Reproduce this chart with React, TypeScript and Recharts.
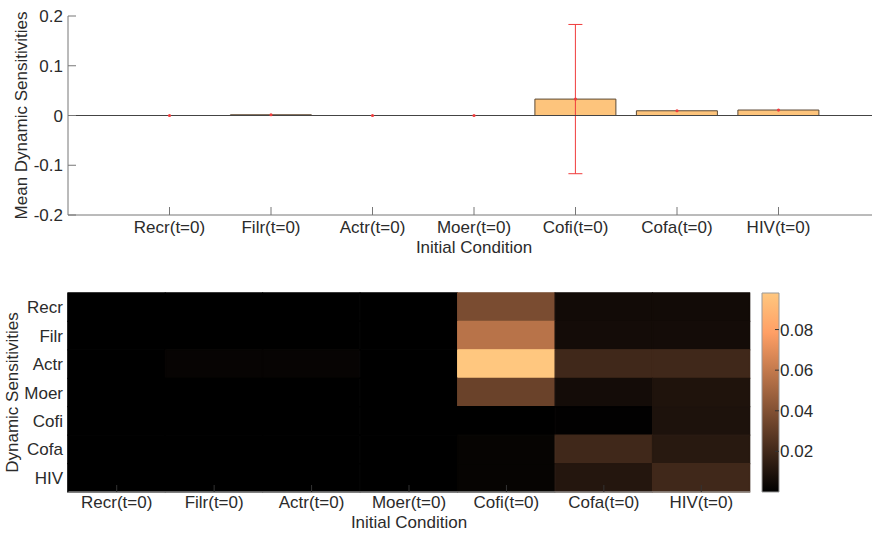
import {
  ComposedChart,
  BarChart,
  Bar,
  Line,
  XAxis,
  YAxis,
  ErrorBar,
  ReferenceLine,
  ReferenceArea,
  Cell,
  Label,
} from "recharts";

// initial conditions (x categories of both plots)
const conditions = ["Recr(t=0)", "Filr(t=0)", "Actr(t=0)", "Moer(t=0)", "Cofi(t=0)", "Cofa(t=0)", "HIV(t=0)"];

// top plot: mean dynamic sensitivity per initial condition, with spread
const meanSens = [0, 0.0015, 0, 0, 0.033, 0.0095, 0.011];
const sensErr = [null, null, null, null, 0.15, null, null];
const meanTicks = [-0.2, -0.1, 0, 0.1, 0.2];

// bottom plot: sensitivity of each variable (rows) to each initial condition (columns)
const sensRows = ["Recr", "Filr", "Actr", "Moer", "Cofi", "Cofa", "HIV"];
const recrRow = [0, 0, 0, 0, 0.0375, 0.0055, 0.0055];
const filrRow = [0, 0, 0, 0, 0.0565, 0.006, 0.006];
const actrRow = [0, 0.002, 0.002, 0, 0.098, 0.0197, 0.0197];
const moerRow = [0, 0, 0, 0, 0.0326, 0.006, 0.0095];
const cofiRow = [0, 0, 0, 0, 0, 0.0005, 0.009];
const cofaRow = [0, 0, 0, 0, 0.0018, 0.0197, 0.0123];
const hivRow = [0, 0, 0, 0, 0.0018, 0.011, 0.0197];
const heat = [recrRow, filrRow, actrRow, moerRow, cofiRow, cofaRow, hivRow];

const colorMax = 0.098;
const colorTicks = [0.02, 0.04, 0.06, 0.08];

const TEXT = "#2b2b2b";
const FONT = 17;
const RED = "#f03c3c";

// MATLAB "copper" colormap
function copper(v: number) {
  const t = Math.max(0, Math.min(1, v / colorMax));
  const r = Math.round(Math.min(1, 1.25 * t) * 255);
  const g = Math.round(0.7812 * t * 255);
  const b = Math.round(0.4975 * t * 255);
  return `rgb(${r},${g},${b})`;
}

function verticalTitle(text: string, dx: number) {
  return (props: any) => {
    const vb = props.viewBox || {};
    const x = vb.x + dx;
    const y = vb.y + vb.height / 2;
    return (
      <text x={x} y={y} transform={`rotate(-90 ${x} ${y})`} textAnchor="middle" fill={TEXT} fontSize={FONT}>
        {text}
      </text>
    );
  };
}

const barData = conditions.map((name, i) => ({ name, mean: meanSens[i], err: sensErr[i] }));

const heatData = conditions.map((name) => {
  const row: Record<string, any> = { name };
  sensRows.forEach((_, r) => {
    row[`r${r}`] = 1;
  });
  return row;
});

const rowTicks = sensRows.map((_, r) => r + 0.5);

function MeanChart() {
  return (
    <ComposedChart
      width={880}
      height={260}
      data={barData}
      margin={{ top: 16, right: 0, bottom: 0, left: 0 }}
      barCategoryGap="10%"
    >
      <XAxis
        dataKey="name"
        interval={0}
        padding={{ left: 50.75, right: 50.75 }}
        height={45}
        tickSize={-8}
        tickMargin={14}
        stroke="#777"
        tick={{ fill: TEXT, fontSize: FONT }}
      >
        <Label value="Initial Condition" position="insideBottom" offset={7} fill={TEXT} fontSize={FONT} />
      </XAxis>
      <XAxis
        xAxisId="top"
        orientation="top"
        dataKey="name"
        interval={0}
        padding={{ left: 50.75, right: 50.75 }}
        height={0}
        tickSize={-8}
        tick={false}
        stroke="#777"
      />
      <YAxis
        type="number"
        domain={[-0.2, 0.2]}
        ticks={meanTicks}
        width={68}
        tickSize={-8}
        tickMargin={13}
        stroke="#777"
        tick={{ fill: TEXT, fontSize: FONT }}
        tickFormatter={(v: number) => String(v)}
        label={{ content: verticalTitle("Mean Dynamic Sensitivities", 27) }}
      />
      <Bar dataKey="mean" fill="#FDC47C" stroke="#5c4a36" strokeWidth={1} isAnimationActive={false}>
        <ErrorBar dataKey="err" width={7} stroke={RED} strokeWidth={1} direction="y" />
      </Bar>
      <ReferenceLine y={0} stroke="#444" />
      <Line
        dataKey="mean"
        stroke="none"
        dot={{ r: 1.6, fill: RED, stroke: "none" }}
        activeDot={false}
        isAnimationActive={false}
      />
    </ComposedChart>
  );
}

function HeatChart() {
  return (
    <BarChart
      width={760}
      height={274}
      data={heatData}
      margin={{ top: 33, right: 10, bottom: 0, left: 0 }}
      barCategoryGap={0}
      barGap={0}
    >
      <XAxis
        dataKey="name"
        interval={0}
        height={42}
        tickSize={-7}
        tickMargin={11}
        stroke="#c8c8c8"
        tickLine={{ stroke: "#333" }}
        tick={{ fill: TEXT, fontSize: FONT }}
      >
        <Label value="Initial Condition" position="insideBottom" offset={6} fill={TEXT} fontSize={FONT} />
      </XAxis>
      <YAxis
        type="number"
        domain={[0, 7]}
        reversed
        ticks={rowTicks}
        width={68}
        tickSize={-7}
        tickMargin={12}
        stroke="#000"
        tick={{ fill: TEXT, fontSize: FONT }}
        tickFormatter={(v: number) => sensRows[Math.floor(v)]}
        label={{ content: verticalTitle("Dynamic Sensitivities", 18) }}
      />
      {sensRows.map((row, r) => (
        <Bar key={row} dataKey={`r${r}`} stackId="heat" isAnimationActive={false}>
          {conditions.map((c, ci) => (
            <Cell key={c} fill={copper(heat[r][ci])} stroke={copper(heat[r][ci])} strokeWidth={1.3} />
          ))}
        </Bar>
      ))}
      <ReferenceArea y1={0} y2={7} fill="none" stroke="#c8c8c8" strokeWidth={1} />
    </BarChart>
  );
}

function ColorBar() {
  return (
    <BarChart
      width={122}
      height={274}
      data={[{ name: "clim", top: colorMax }]}
      margin={{ top: 33, right: 33, bottom: 42, left: 12 }}
      barCategoryGap={0}
    >
      <defs>
        <linearGradient id="copperGrad" x1="0" y1="1" x2="0" y2="0">
          <stop offset="0" stopColor={copper(0)} />
          <stop offset="0.8" stopColor={copper(0.8 * colorMax)} />
          <stop offset="1" stopColor={copper(colorMax)} />
        </linearGradient>
      </defs>
      <XAxis dataKey="name" hide />
      <YAxis
        orientation="right"
        type="number"
        domain={[0, colorMax]}
        ticks={colorTicks}
        width={60}
        tickSize={-4}
        tickMargin={5}
        axisLine={false}
        tickLine={{ stroke: "#333" }}
        tick={{ fill: TEXT, fontSize: FONT }}
        tickFormatter={(v: number) => v.toFixed(2)}
      />
      <Bar dataKey="top" fill="url(#copperGrad)" stroke="#999" strokeWidth={1} isAnimationActive={false} />
    </BarChart>
  );
}

export default function App() {
  return (
    <div
      style={{
        position: "fixed",
        left: 0,
        top: 0,
        width: 872,
        height: 534,
        overflow: "hidden",
        background: "#fff",
        fontFamily: "'Liberation Sans', Arial, sans-serif",
      }}
    >
      <div style={{ position: "absolute", left: 0, top: 0 }}>
        <MeanChart />
      </div>
      <div style={{ position: "absolute", left: 0, top: 260 }}>
        <HeatChart />
      </div>
      <div style={{ position: "absolute", left: 750, top: 260 }}>
        <ColorBar />
      </div>
    </div>
  );
}
